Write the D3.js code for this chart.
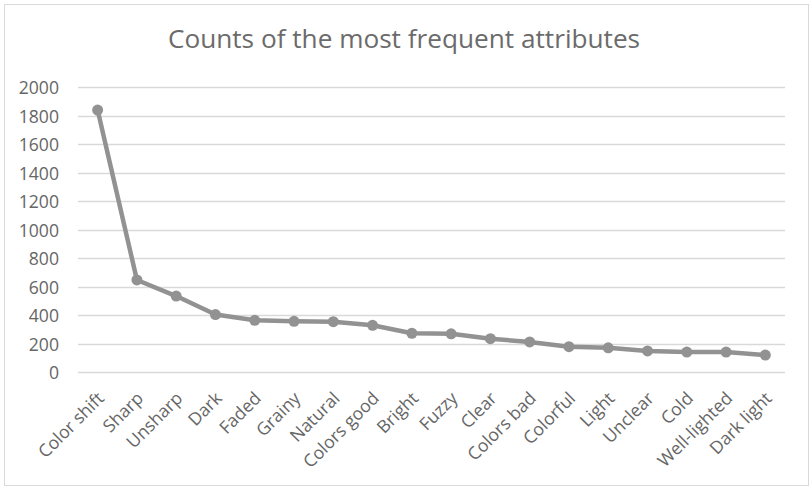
<!DOCTYPE html>
<html>
<head>
<meta charset="utf-8">
<script src="https://cdn.jsdelivr.net/npm/d3@7"></script>
<style>
  html, body { margin: 0; padding: 0; background: #fff; }
  svg { display: block; }
  text { font-family: "Open Sans", sans-serif; fill: #666; }
</style>
</head>
<body>
<svg id="chart" width="809" height="487"></svg>
<script>
// Attribute names in descending order of frequency
const categories = [
  "Color shift", "Sharp", "Unsharp", "Dark", "Faded", "Grainy", "Natural",
  "Colors good", "Bright", "Fuzzy", "Clear", "Colors bad", "Colorful",
  "Light", "Unclear", "Cold", "Well-lighted", "Dark light"
];
// Number of occurrences for each attribute
const counts = [
  1840, 648, 535, 405, 365, 358, 355, 330, 274, 270, 236, 213, 180,
  172, 150, 142, 142, 121
];
// Value-axis ticks
const yTicks = [0, 200, 400, 600, 800, 1000, 1200, 1400, 1600, 1800, 2000];
const chartTitle = "Counts of the most frequent attributes";

const svg = d3.select("#chart");
const W = 809, H = 487;
const plot = { left: 78, right: 785, top: 87.3, bottom: 372.3 };

// Outer chart frame
svg.append("rect")
  .attr("x", 4.5).attr("y", 4.5)
  .attr("width", W - 5).attr("height", H - 6)
  .attr("fill", "#fff")
  .attr("stroke", "#d9d9d9")
  .attr("stroke-width", 1);

const x = d3.scaleBand()
  .domain(categories)
  .range([plot.left, plot.right])
  .paddingInner(0).paddingOuter(0);

const y = d3.scaleLinear()
  .domain([0, 2000])
  .range([plot.bottom, plot.top]);

// Title
svg.append("text")
  .attr("x", 404)
  .attr("y", 48)
  .attr("text-anchor", "middle")
  .style("font-size", "26.2px")
  .style("fill", "#6b6b6b")
  .text(chartTitle);

// Horizontal gridlines
svg.append("g")
  .selectAll("line")
  .data(yTicks)
  .join("line")
  .attr("x1", plot.left).attr("x2", plot.right)
  .attr("y1", d => Math.round(y(d)) + 0.5)
  .attr("y2", d => Math.round(y(d)) + 0.5)
  .attr("stroke", "#d9d9d9")
  .attr("stroke-width", 1.3);

// Value axis labels
const yAxis = d3.axisLeft(y).tickValues(yTicks).tickSize(0).tickPadding(0)
  .tickFormat(d3.format("d"));
const gy = svg.append("g")
  .attr("transform", `translate(${59},0)`)
  .call(yAxis);
gy.select(".domain").remove();
gy.selectAll("text")
  .style("font-size", "17.6px")
  .style("fill", "#666")
  .attr("dy", "0.36em");

// Category axis labels, rotated 45 degrees
const gx = svg.append("g");
gx.selectAll("text")
  .data(categories)
  .join("text")
  .attr("text-anchor", "end")
  .attr("transform", d => `translate(${x(d) + x.bandwidth() / 2 + 3},${395}) rotate(-45)`)
  .attr("dy", "0.36em")
  .style("font-size", "17.6px")
  .style("fill", "#666")
  .text(d => d);

// Series line
const line = d3.line()
  .x((d, i) => x(categories[i]) + x.bandwidth() / 2)
  .y(d => y(d));

svg.append("path")
  .datum(counts)
  .attr("d", line)
  .attr("fill", "none")
  .attr("stroke", "#929292")
  .attr("stroke-width", 4.5)
  .attr("stroke-linejoin", "round")
  .attr("stroke-linecap", "round");

// Markers
svg.append("g")
  .selectAll("circle")
  .data(counts)
  .join("circle")
  .attr("cx", (d, i) => x(categories[i]) + x.bandwidth() / 2)
  .attr("cy", d => y(d))
  .attr("r", 5.5)
  .attr("fill", "#929292");
</script>
</body>
</html>
